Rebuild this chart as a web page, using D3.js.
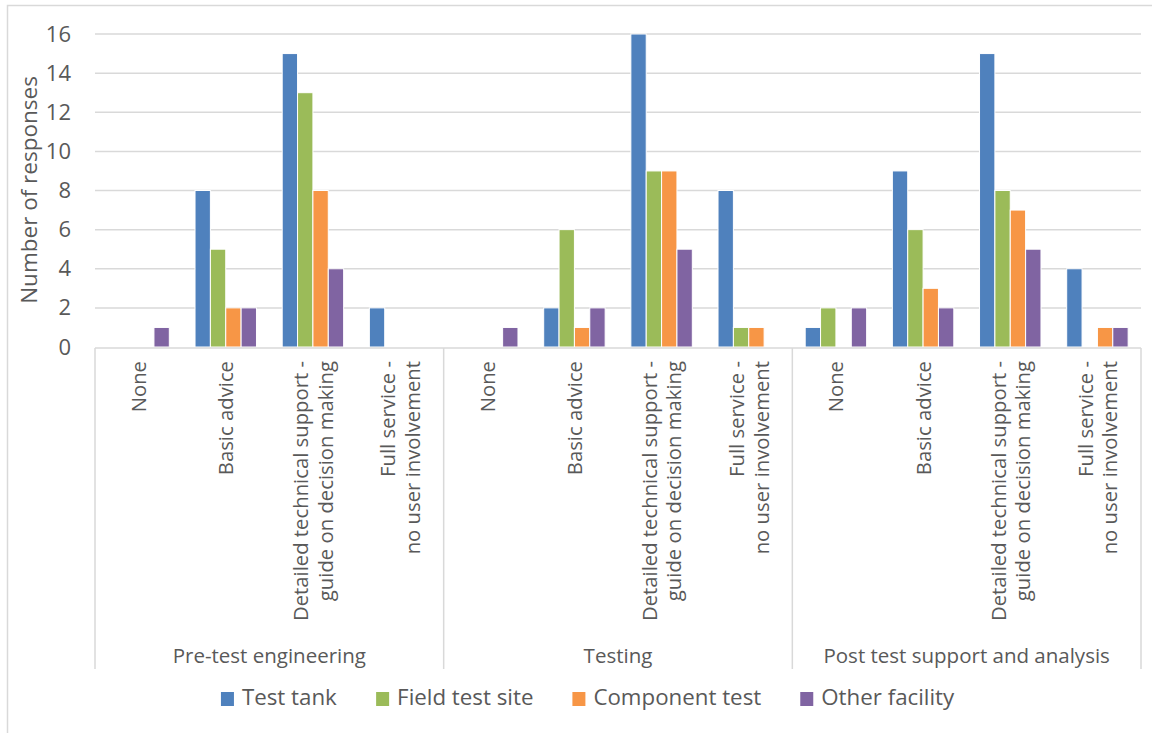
<!DOCTYPE html>
<html>
<head>
<meta charset="utf-8">
<script src="https://cdn.jsdelivr.net/npm/d3@7"></script>
<style>
  body { margin: 0; background: #fff; }
  svg { font-family: "Open Sans", sans-serif; }
</style>
</head>
<body>
<svg id="chart" width="1152" height="733"></svg>
<script>
// groups and the sub categories inside each group
var groups = ["Pre-test engineering", "Testing", "Post test support and analysis"];
var subcats = [
    ["None"],
    ["Basic advice"],
    ["Detailed technical support -", "guide on decision making"],
    ["Full service -", "no user involvement"]
];
var seriesNames = ["Test tank", "Field test site", "Component test", "Other facility"];
var seriesColors = ["#4F81BD", "#9BBB59", "#F79646", "#8064A2"];

// values per series, 12 entries each (group x subcategory)
var testTank      = [0, 8, 15, 2,   0, 2, 16, 8,   1, 9, 15, 4];
var fieldTestSite = [0, 5, 13, 0,   0, 6,  9, 1,   2, 6,  8, 0];
var componentTest = [0, 2,  8, 0,   0, 1,  9, 1,   0, 3,  7, 1];
var otherFacility = [1, 2,  4, 0,   1, 2,  5, 0,   2, 2,  5, 1];
var yTicks = [0, 2, 4, 6, 8, 10, 12, 14, 16];

var seriesValues = [testTank, fieldTestSite, componentTest, otherFacility];

var svg = d3.select("#chart");
var grey = "#D9D9D9", textGrey = "#595959";

var plot = {left: 95, right: 1141, top: 34, bottom: 347};

// outer chart border (cut at right / bottom like the source image)
svg.append("rect")
    .attr("x", 7.5).attr("y", 5.5)
    .attr("width", 1200).attr("height", 800)
    .attr("fill", "none")
    .attr("stroke", grey).attr("stroke-width", 1.5);

// flat keys for the 12 slots
var keys = [];
groups.forEach(function(g, gi) {
    subcats.forEach(function(s, si) { keys.push(gi + "_" + si); });
});

var x0 = d3.scaleBand().domain(keys).range([plot.left, plot.right]).padding(0);
var innerW = x0.bandwidth() * 0.705;
var x1 = d3.scaleBand().domain(d3.range(seriesNames.length)).range([0, innerW]).padding(0);
var y = d3.scaleLinear().domain([0, 16]).range([plot.bottom, plot.top]);

// gridlines
svg.append("g").selectAll("line")
    .data(yTicks.filter(function(d) { return d > 0; }))
    .enter().append("line")
    .attr("x1", plot.left).attr("x2", plot.right)
    .attr("y1", function(d) { return y(d); })
    .attr("y2", function(d) { return y(d); })
    .attr("stroke", grey).attr("stroke-width", 1.5);

// y axis labels
var yAxis = d3.axisLeft(y).tickValues(yTicks).tickSize(0).tickPadding(0);
var yG = svg.append("g").attr("transform", "translate(71,0)").call(yAxis);
yG.select(".domain").remove();
yG.selectAll("text")
    .attr("fill", textGrey)
    .style("font-size", "22px")
    .style("font-family", "Open Sans, sans-serif");

svg.append("text")
    .attr("transform", "translate(37,190) rotate(-90)")
    .attr("text-anchor", "middle")
    .attr("fill", textGrey)
    .style("font-size", "22.5px")
    .text("Number of responses");

// bars
var barData = [];
keys.forEach(function(k, ki) {
    seriesValues.forEach(function(vals, si) {
        barData.push({key: k, s: si, v: vals[ki]});
    });
});
var bars = svg.append("g");
bars.selectAll("rect")
    .data(barData.filter(function(d) { return d.v > 0; }))
    .enter().append("rect")
    .attr("x", function(d) { return x0(d.key) + (x0.bandwidth() - innerW) / 2 + x1(d.s); })
    .attr("y", function(d) { return y(d.v); })
    .attr("width", x1.bandwidth())
    .attr("height", function(d) { return y(0) - y(d.v); })
    .attr("fill", function(d) { return seriesColors[d.s]; })
    .attr("stroke", "#fff").attr("stroke-width", 1);

// category axis box
var axisBottom = 669;
svg.append("line")
    .attr("x1", plot.left).attr("x2", plot.right)
    .attr("y1", plot.bottom + 1).attr("y2", plot.bottom + 1)
    .attr("stroke", grey).attr("stroke-width", 1.5);
var sepX = [plot.left];
groups.forEach(function(g, gi) { sepX.push(x0(gi + "_" + (subcats.length - 1)) + x0.bandwidth()); });
svg.append("g").selectAll("line")
    .data(sepX)
    .enter().append("line")
    .attr("x1", function(d) { return d; }).attr("x2", function(d) { return d; })
    .attr("y1", plot.bottom + 1).attr("y2", axisBottom)
    .attr("stroke", grey).attr("stroke-width", 1.5);

// rotated sub category labels
var catG = svg.append("g");
keys.forEach(function(k, ki) {
    var lines = subcats[ki % subcats.length];
    var cx = x0(k) + x0.bandwidth() / 2;
    lines.forEach(function(line, li) {
        var off = (li - (lines.length - 1) / 2) * 24.5;
        catG.append("text")
            .attr("transform", "translate(" + (cx + off + 7.5) + "," + 361 + ") rotate(-90)")
            .attr("text-anchor", "end")
            .attr("fill", textGrey)
            .style("font-size", "20.3px")
            .text(line);
    });
});

// group labels
svg.append("g").selectAll("text")
    .data(groups)
    .enter().append("text")
    .attr("x", function(d, i) { return (sepX[i] + sepX[i + 1]) / 2; })
    .attr("y", 663)
    .attr("text-anchor", "middle")
    .attr("fill", textGrey)
    .style("font-size", "20.5px")
    .text(function(d) { return d; });

// legend
var legend = svg.append("g");
var items = legend.selectAll("g").data(seriesNames).enter().append("g");
items.append("rect")
    .attr("width", 13).attr("height", 14)
    .attr("y", -13)
    .attr("fill", function(d, i) { return seriesColors[i]; });
items.append("text")
    .attr("x", 21).attr("y", 0)
    .attr("fill", textGrey)
    .style("font-size", "22.3px")
    .text(function(d) { return d; });
var lx = 0;
items.each(function() {
    var w = this.getBBox().width;
    d3.select(this).attr("data-x", lx);
    lx += w + 39;
});
var totalW = lx - 39;
var startX = 588 - totalW / 2;
items.attr("transform", function() {
    return "translate(" + (startX + (+d3.select(this).attr("data-x"))) + ",705)";
});
</script>
</body>
</html>
